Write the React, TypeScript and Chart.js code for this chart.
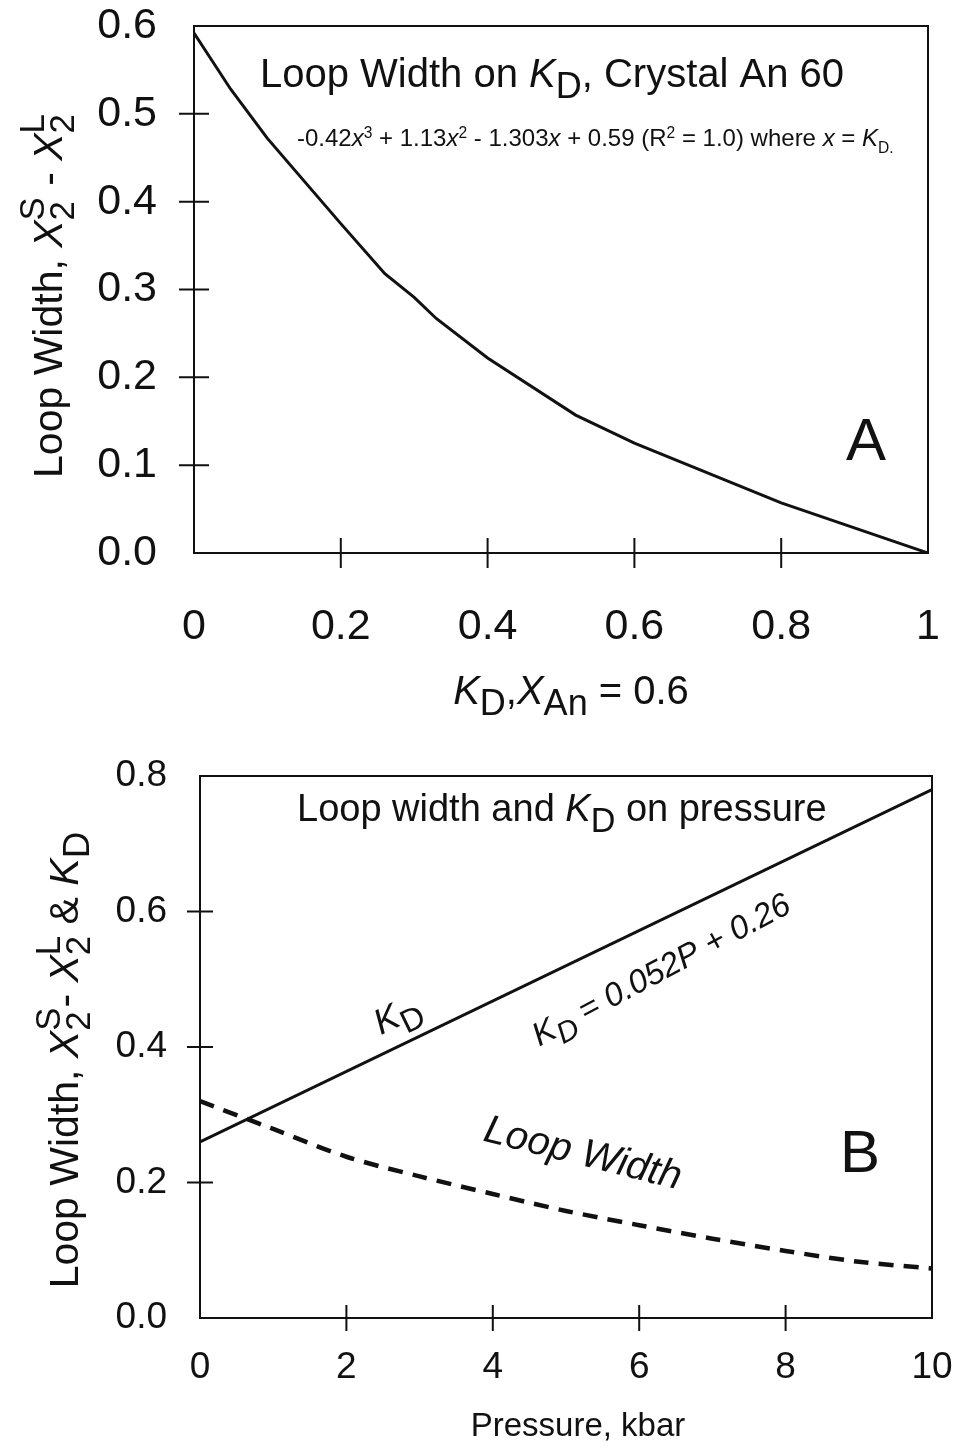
import React, { useEffect, useRef } from "react";
import Chart from "chart.js/auto";

// ---------- DATA ----------
// Panel A: loop width vs KD (crystal An 60)
const kdA = [0, 0.05, 0.1, 0.2, 0.26, 0.3, 0.33, 0.4, 0.52, 0.6, 0.8, 1.0];
const loopWidthA = [0.592, 0.528, 0.472, 0.375, 0.318, 0.291, 0.267, 0.222, 0.157, 0.125, 0.057, 0.0];
const xTickMarksA = [0.2, 0.4, 0.6, 0.8];
const yTickMarksA = [0.1, 0.2, 0.3, 0.4, 0.5];

// Panel B: loop width and KD vs pressure
const pressureKd = [0, 10];
const kdB = [0.26, 0.78];
const pressureLoop = [0, 1, 2, 3, 4, 5, 6, 7, 8, 9, 10];
const loopWidthB = [0.32, 0.279, 0.238, 0.209, 0.183, 0.158, 0.137, 0.117, 0.099, 0.083, 0.073];
const xTickMarksB = [2, 4, 6, 8];
const yTickMarksB = [0.2, 0.4, 0.6];

const FAM = '"Liberation Sans", Arial, Helvetica, sans-serif';
const INK = "#111";

type Seg = { t?: string; it?: boolean; sub?: boolean; sup?: boolean; sc?: number; stack?: [string, string] };

function font(size: number, it?: boolean) {
  return `${it ? "italic " : ""}${size}px ${FAM}`;
}

function segW(ctx: CanvasRenderingContext2D, s: Seg, size: number) {
  const sz = size * (s.sc ?? 1);
  ctx.font = font(sz, s.it);
  if (s.stack) return Math.max(ctx.measureText(s.stack[0]).width, ctx.measureText(s.stack[1]).width);
  return ctx.measureText(s.t || "").width;
}

function drawRich(
  ctx: CanvasRenderingContext2D,
  segs: Seg[],
  x: number,
  y: number,
  size: number,
  align: "left" | "center",
  rot = 0
) {
  ctx.save();
  ctx.translate(x, y);
  ctx.rotate(rot);
  ctx.fillStyle = INK;
  ctx.textBaseline = "alphabetic";
  ctx.textAlign = "left";
  let total = 0;
  for (const s of segs) total += segW(ctx, s, size);
  let cx = align === "center" ? -total / 2 : 0;
  for (const s of segs) {
    const w = segW(ctx, s, size);
    const sz = size * (s.sc ?? 1);
    ctx.font = font(sz, s.it);
    if (s.stack) {
      ctx.fillText(s.stack[0], cx, size * 0.3);
      ctx.fillText(s.stack[1], cx, -size * 0.45);
    } else {
      let dy = 0;
      if (s.sub) dy = size * 0.28;
      if (s.sup) dy = -size * 0.32;
      ctx.fillText(s.t || "", cx, dy);
    }
    cx += w;
  }
  ctx.restore();
}

function frameAndTicks(xMarks: number[], yMarks: number[], half: number) {
  return {
    id: "frameTicks",
    afterDatasetsDraw(chart: any) {
      const { ctx, chartArea: a, scales } = chart;
      ctx.save();
      ctx.strokeStyle = INK;
      ctx.lineWidth = 2;
      ctx.strokeRect(a.left, a.top, a.right - a.left, a.bottom - a.top);
      ctx.beginPath();
      for (const v of xMarks) {
        const px = scales.x.getPixelForValue(v);
        ctx.moveTo(px, a.bottom - half);
        ctx.lineTo(px, a.bottom + half);
      }
      for (const v of yMarks) {
        const py = scales.y.getPixelForValue(v);
        ctx.moveTo(a.left - half, py);
        ctx.lineTo(a.left + half, py);
      }
      ctx.stroke();
      ctx.restore();
    },
  };
}

function baseScales(opts: {
  xmin: number; xmax: number; xstep: number; ymin: number; ymax: number; ystep: number;
  tickSize: number; yPad: number; xPad: number; yWidth: number; xHeight: number;
  xFmt: (v: number) => string; yFmt: (v: number) => string;
}) {
  return {
    x: {
      type: "linear" as const,
      min: opts.xmin,
      max: opts.xmax,
      grid: { display: false, drawTicks: false },
      border: { display: false },
      ticks: {
        stepSize: opts.xstep,
        color: INK,
        font: { family: FAM, size: opts.tickSize },
        padding: opts.xPad,
        autoSkip: false,
        maxRotation: 0,
        callback: (v: any) => opts.xFmt(Number(v)),
      },
      afterFit: (s: any) => {
        s.height = opts.xHeight;
        s.paddingLeft = 0;
        s.paddingRight = 0;
      },
    },
    y: {
      type: "linear" as const,
      min: opts.ymin,
      max: opts.ymax,
      grid: { display: false, drawTicks: false },
      border: { display: false },
      ticks: {
        stepSize: opts.ystep,
        color: INK,
        font: { family: FAM, size: opts.tickSize },
        padding: opts.yPad,
        autoSkip: false,
        callback: (v: any) => opts.yFmt(Number(v)),
      },
      afterFit: (s: any) => {
        s.width = opts.yWidth;
        s.paddingTop = 0;
        s.paddingBottom = 0;
      },
    },
  };
}

function ChartA() {
  const ref = useRef<HTMLCanvasElement>(null);
  useEffect(() => {
    const annot = {
      id: "annotA",
      afterDraw(chart: any) {
        const { ctx, chartArea: a } = chart;
        drawRich(ctx, [
          { t: "Loop Width on " },
          { t: "K", it: true },
          { t: "D", sub: true, sc: 0.9 },
          { t: ", Crystal An 60" },
        ], 260, 87, 40, "left");
        drawRich(ctx, [
          { t: "-0.42" }, { t: "x", it: true }, { t: "3", sup: true, sc: 0.65 },
          { t: " + 1.13" }, { t: "x", it: true }, { t: "2", sup: true, sc: 0.65 },
          { t: " - 1.303" }, { t: "x", it: true },
          { t: " + 0.59 (R" }, { t: "2", sup: true, sc: 0.65 },
          { t: " = 1.0) where " }, { t: "x", it: true }, { t: " = " },
          { t: "K", it: true }, { t: "D.", sub: true, sc: 0.65 },
        ], 297, 146, 24, "left");
        drawRich(ctx, [{ t: "A" }], 866, 460, 60, "center");
        drawRich(ctx, [
          { t: "K", it: true }, { t: "D", sub: true, sc: 0.9 }, { t: "," },
          { t: "X", it: true }, { t: "An", sub: true, sc: 0.9 }, { t: " = 0.6" },
        ], (a.left + a.right) / 2 + 10, 704, 40, "center");
        drawRich(ctx, [
          { t: "Loop Width, " }, { t: "X", it: true }, { stack: ["2", "S"], sc: 0.85 },
          { t: " - " }, { t: "X", it: true }, { stack: ["2", "L"], sc: 0.85 },
        ], 62, 296, 41, "center", -Math.PI / 2);
      },
    };
    const chart = new Chart(ref.current!, {
      type: "scatter",
      data: {
        datasets: [
          {
            data: kdA.map((x, i) => ({ x, y: loopWidthA[i] })),
            showLine: true,
            borderColor: INK,
            borderWidth: 3,
            pointRadius: 0,
            tension: 0,
          },
        ],
      },
      options: {
        animation: false,
        responsive: false,
        layout: { padding: { top: 26, right: 30, left: 0, bottom: 0 } },
        plugins: { legend: { display: false }, tooltip: { enabled: false } },
        scales: baseScales({
          xmin: 0, xmax: 1, xstep: 0.2, ymin: 0, ymax: 0.6, ystep: 0.1,
          tickSize: 43, yPad: 37, xPad: 48, yWidth: 194, xHeight: 172,
          xFmt: (v) => String(parseFloat(v.toFixed(1))),
          yFmt: (v) => v.toFixed(1),
        }) as any,
      },
      plugins: [frameAndTicks(xTickMarksA, yTickMarksA, 15), annot],
    });
    return () => chart.destroy();
  }, []);
  return <canvas ref={ref} width={958} height={725} style={{ display: "block" }} />;
}

function ChartB() {
  const ref = useRef<HTMLCanvasElement>(null);
  useEffect(() => {
    const annot = {
      id: "annotB",
      afterDraw(chart: any) {
        const { ctx, chartArea: a } = chart;
        drawRich(ctx, [
          { t: "Loop width and " }, { t: "K", it: true }, { t: "D", sub: true, sc: 0.9 }, { t: " on pressure" },
        ], 297, 96, 38, "left");
        drawRich(ctx, [{ t: "K", it: true }, { t: "D", sub: true, sc: 0.9 }], 402, 300, 36, "center", -0.45);
        drawRich(ctx, [
          { t: "K", it: true }, { t: "D", sub: true, sc: 0.9, it: true }, { t: " = 0.052", it: true },
          { t: "P", it: true }, { t: " + 0.26", it: true },
        ], 666, 254, 33, "center", -0.49);
        drawRich(ctx, [{ t: "Loop Width", it: true }], 580, 440, 40, "center", 0.245);
        drawRich(ctx, [{ t: "B" }], 860, 447, 60, "center");
        drawRich(ctx, [{ t: "Pressure, kbar" }], (a.left + a.right) / 2 + 12, 711, 33, "center");
        drawRich(ctx, [
          { t: "Loop Width, " }, { t: "X", it: true }, { stack: ["2", "S"], sc: 0.85 },
          { t: "- " }, { t: "X", it: true }, { stack: ["2", "L"], sc: 0.85 },
          { t: " & " }, { t: "K", it: true }, { t: "D", sub: true, sc: 0.9 },
        ], 78, 335, 41, "center", -Math.PI / 2);
      },
    };
    const chart = new Chart(ref.current!, {
      type: "scatter",
      data: {
        datasets: [
          {
            data: pressureKd.map((x, i) => ({ x, y: kdB[i] })),
            showLine: true,
            borderColor: INK,
            borderWidth: 3,
            pointRadius: 0,
          },
          {
            data: pressureLoop.map((x, i) => ({ x, y: loopWidthB[i] })),
            showLine: true,
            borderColor: INK,
            borderWidth: 4.5,
            borderDash: [15, 10],
            pointRadius: 0,
            tension: 0.3,
          },
        ],
      },
      options: {
        animation: false,
        responsive: false,
        layout: { padding: { top: 51, right: 26, left: 0, bottom: 0 } },
        plugins: { legend: { display: false }, tooltip: { enabled: false } },
        scales: baseScales({
          xmin: 0, xmax: 10, xstep: 2, ymin: 0, ymax: 0.8, ystep: 0.2,
          tickSize: 37, yPad: 33, xPad: 28, yWidth: 200, xHeight: 132,
          xFmt: (v) => String(v),
          yFmt: (v) => v.toFixed(1),
        }) as any,
      },
      plugins: [frameAndTicks(xTickMarksB, yTickMarksB, 13), annot],
    });
    return () => chart.destroy();
  }, []);
  return <canvas ref={ref} width={958} height={725} style={{ display: "block" }} />;
}

export default function App() {
  return (
    <div style={{ position: "absolute", left: 0, top: 0, width: 958, height: 1450, background: "#fff" }}>
      <ChartA />
      <ChartB />
    </div>
  );
}
